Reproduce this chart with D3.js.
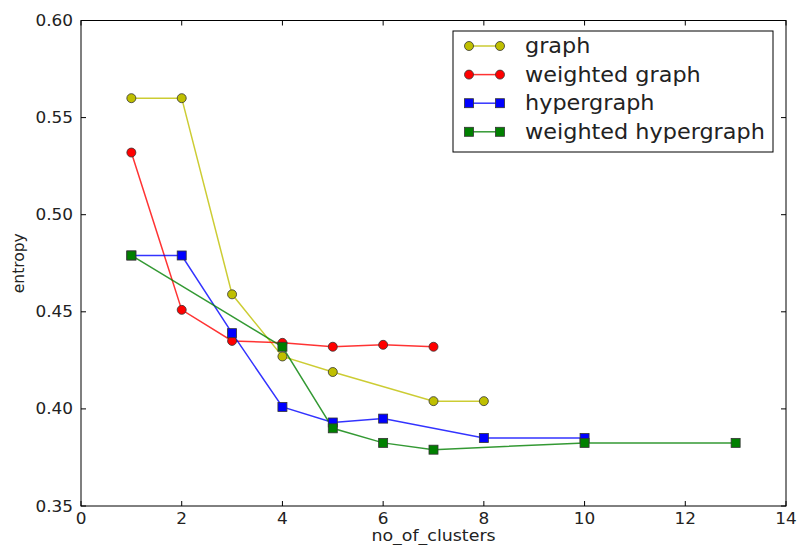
<!DOCTYPE html>
<html><head><meta charset="utf-8">
<script src="https://cdn.jsdelivr.net/npm/d3@7"></script>
<style>body{margin:0;background:#fff;} text{font-family:"DejaVu Sans",sans-serif;}</style>
</head><body><svg id="c" width="798" height="545"></svg>
<script>
const seriesNames = ["graph","weighted graph","hypergraph","weighted hypergraph"];
const graphX = [1,2,3,4,5,7,8];
const graphY = [0.560,0.560,0.459,0.427,0.419,0.404,0.404];
const wGraphX = [1,2,3,4,5,6,7];
const wGraphY = [0.532,0.451,0.435,0.434,0.432,0.433,0.432];
const hyperX = [1,2,3,4,5,6,8,10];
const hyperY = [0.479,0.479,0.439,0.401,0.393,0.395,0.385,0.385];
const wHyperX = [1,4,5,6,7,10,13];
const wHyperY = [0.479,0.432,0.390,0.3825,0.379,0.3825,0.3825];
const xTicks = [0,2,4,6,8,10,12,14];
const yTicks = [0.35,0.40,0.45,0.50,0.55,0.60];

const series = [
  {name:seriesNames[0], xs:graphX, ys:graphY, color:"#bfbf00", marker:"circle"},
  {name:seriesNames[1], xs:wGraphX, ys:wGraphY, color:"#ff0000", marker:"circle"},
  {name:seriesNames[2], xs:hyperX, ys:hyperY, color:"#0000ff", marker:"square"},
  {name:seriesNames[3], xs:wHyperX, ys:wHyperY, color:"#008000", marker:"square"}
];

const svg = d3.select("#c");
const L=81, R=786, T=20.5, B=506;
const SX = 1.09;
const x = d3.scaleLinear().domain([0,14]).range([L,R]);
const y = d3.scaleLinear().domain([0.35,0.60]).range([B,T]);

function htext(parent, tx, ty, str, size, anchor){
  return parent.append("text").attr("transform",`translate(${tx},${ty}) scale(${SX},1)`)
    .attr("text-anchor",anchor||"start").attr("font-size",size).attr("fill","#222").text(str);
}

const g = svg.append("g");
const tl = 5;
xTicks.forEach(t=>{
  g.append("line").attr("x1",x(t)).attr("x2",x(t)).attr("y1",B).attr("y2",B-tl).attr("stroke","#000");
  g.append("line").attr("x1",x(t)).attr("x2",x(t)).attr("y1",T).attr("y2",T+tl).attr("stroke","#000");
  htext(g, x(t), B+17.5, d3.format("d")(t), 15.5, "middle");
});
yTicks.forEach(t=>{
  g.append("line").attr("x1",L).attr("x2",L+tl).attr("y1",y(t)).attr("y2",y(t)).attr("stroke","#000");
  g.append("line").attr("x1",R).attr("x2",R-tl).attr("y1",y(t)).attr("y2",y(t)).attr("stroke","#000");
  htext(g, L-8, y(t)+5.5, d3.format(".2f")(t), 15.5, "end");
});

const line = d3.line().x(d=>x(d[0])).y(d=>y(d[1]));
series.forEach(s=>{
  const pts = s.xs.map((v,i)=>[v,s.ys[i]]);
  g.append("path").attr("d",line(pts)).attr("fill","none").attr("stroke",s.color).attr("stroke-width",1.5).attr("stroke-opacity",0.8);
});
series.forEach(s=>{
  const pts = s.xs.map((v,i)=>[v,s.ys[i]]);
  pts.forEach(p=>{
    if(s.marker==="circle"){
      g.append("circle").attr("cx",x(p[0])).attr("cy",y(p[1])).attr("r",4.5).attr("fill",s.color).attr("stroke","#333").attr("stroke-width",0.8);
    } else {
      g.append("rect").attr("x",x(p[0])-4.5).attr("y",y(p[1])-4.5).attr("width",9).attr("height",9).attr("fill",s.color).attr("stroke","#333").attr("stroke-width",0.8);
    }
  });
});

g.append("rect").attr("x",L).attr("y",T).attr("width",R-L).attr("height",B-T).attr("fill","none").attr("stroke","#000").attr("stroke-width",1);

// axis labels
htext(svg, (L+R)/2, 540.5, "no_of_clusters", 16, "middle");
svg.append("text").attr("transform",`translate(23.5,${(T+B)/2}) rotate(-90)`).attr("text-anchor","middle").attr("font-size",15.5).attr("fill","#222").text("entropy");

// legend
const lg = svg.append("g");
lg.append("rect").attr("x",453).attr("y",31).attr("width",320).attr("height",121).attr("fill","#fff").attr("stroke","#000").attr("stroke-width",1);
series.forEach((s,i)=>{
  const yy = 46 + i*28.6;
  lg.append("line").attr("x1",469).attr("x2",500).attr("y1",yy).attr("y2",yy).attr("stroke",s.color).attr("stroke-width",1.5).attr("stroke-opacity",0.8);
  [469,500].forEach(xx=>{
    if(s.marker==="circle") lg.append("circle").attr("cx",xx).attr("cy",yy).attr("r",4.5).attr("fill",s.color).attr("stroke","#333").attr("stroke-width",0.8);
    else lg.append("rect").attr("x",xx-4.5).attr("y",yy-4.5).attr("width",9).attr("height",9).attr("fill",s.color).attr("stroke","#333").attr("stroke-width",0.8);
  });
  htext(lg, 525, yy+7, s.name, 20.5, "start");
});
</script></body></html>
